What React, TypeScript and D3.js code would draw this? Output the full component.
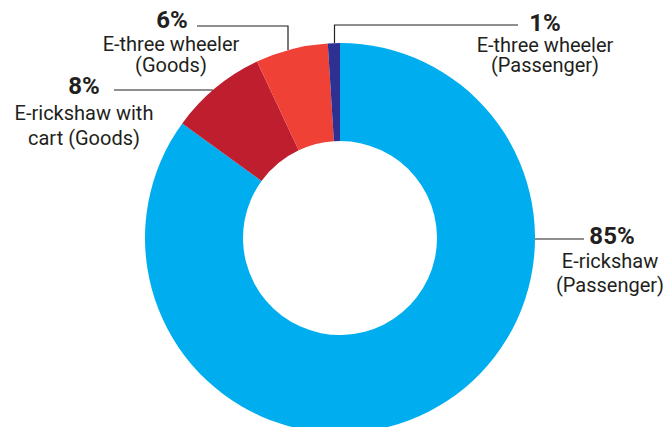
import React from "react";
import * as d3 from "d3";

const categories = [
  "E-rickshaw (Passenger)",
  "E-rickshaw with cart (Goods)",
  "E-three wheeler (Goods)",
  "E-three wheeler (Passenger)",
];
const values = [85, 8, 6, 1];
const colors = ["#00AEEF", "#BE1E2D", "#EF4136", "#2E3192"];
const pctLabels = ["85%", "8%", "6%", "1%"];
const nameLines = [
  ["E-rickshaw", "(Passenger)"],
  ["E-rickshaw with", "cart (Goods)"],
  ["E-three wheeler", "(Goods)"],
  ["E-three wheeler", "(Passenger)"],
];

const W = 665;
const H = 427;
const cx = 340;
const cy = 238;
const rOuter = 195;
const rInner = 97;

// label layout: x center, baselines of pct, line1, line2
const labelPos = [
  { x: 610, pctX: 612, ys: [244, 268, 292] },
  { x: 84, pctX: 84, ys: [94, 120, 145] },
  { x: 171, pctX: 172, ys: [28, 50.5, 71.5] },
  { x: 545, pctX: 545, ys: [31, 52, 72] },
];

export default function App() {
  const pie = d3
    .pie<number>()
    .sort(null)
    .value((d) => d);
  const arcs = pie(values);
  const arc = d3.arc<d3.PieArcDatum<number>>().innerRadius(rInner).outerRadius(rOuter);

  const font = "Roboto, 'Open Sans', sans-serif";
  const textColor = "#231F20";

  const leaders: string[] = [];
  leaders.push(`M${cx + rOuter},${cy + 1} H${584}`);
  {
    const y = 90;
    const dx = Math.sqrt(rOuter * rOuter - (y - cy) * (y - cy));
    leaders.push(`M${114},${y} H${cx - dx}`);
  }
  {
    const x = 288;
    const dy = Math.sqrt(rOuter * rOuter - (x - cx) * (x - cx));
    leaders.push(`M${197},${26} H${x} V${cy - dy}`);
  }
  {
    const x = 334.5;
    const dy = Math.sqrt(rOuter * rOuter - (x - cx) * (x - cx));
    leaders.push(`M${518},${25} H${x} V${cy - dy}`);
  }

  return (
    <svg width={W} height={H} style={{ position: "absolute", left: 0, top: 0, background: "#fff" }}>
      <g transform={`translate(${cx},${cy})`}>
        {arcs.map((a, i) => (
          <path key={categories[i]} d={arc(a) || ""} fill={colors[i]} />
        ))}
      </g>
      {leaders.map((d, i) => (
        <path key={i} d={d} fill="none" stroke={textColor} strokeWidth={1.2} />
      ))}
      {labelPos.map((p, i) => (
        <g key={categories[i]} fontFamily={font} fill={textColor} textAnchor="middle">
          <text x={p.pctX} y={p.ys[0]} fontSize={24} fontWeight={700}>
            {pctLabels[i]}
          </text>
          {nameLines[i].map((ln, j) => (
            <text key={j} x={p.x} y={p.ys[j + 1]} fontSize={20}>
              {ln}
            </text>
          ))}
        </g>
      ))}
    </svg>
  );
}
